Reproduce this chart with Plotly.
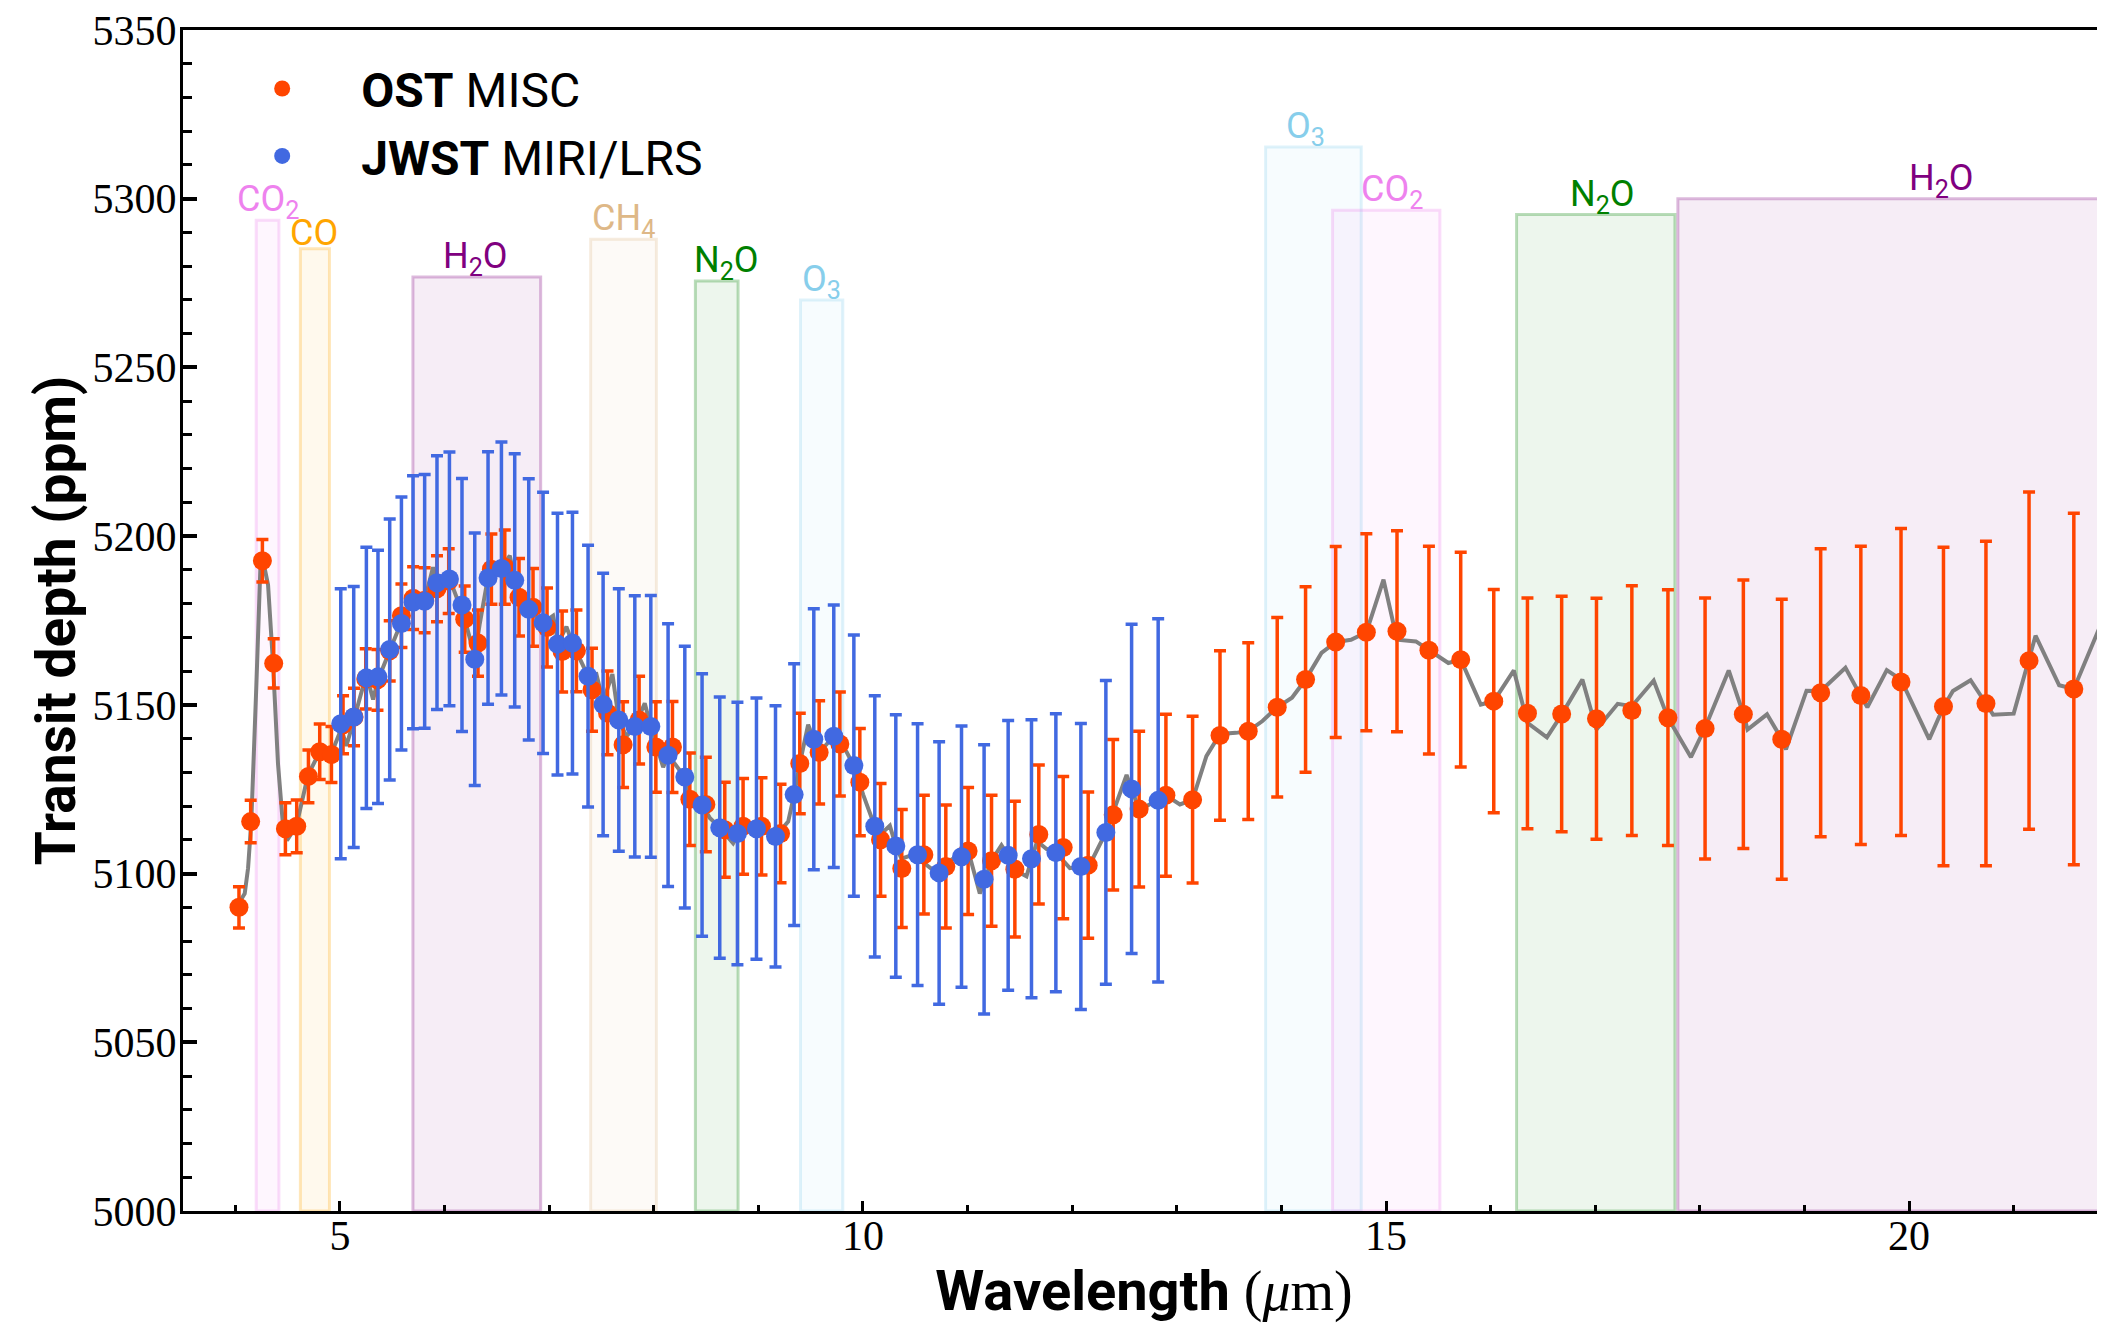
import plotly.graph_objects as go

# ---------------- data ----------------
ost_x = [4.035, 4.147, 4.259, 4.367, 4.479, 4.587, 4.699, 4.807, 4.919, 5.03, 5.135, 5.247, 5.359,
         5.476, 5.588, 5.70, 5.81, 5.928, 6.04, 6.193, 6.32, 6.448, 6.576, 6.712, 6.846, 6.98, 7.124,
         7.261, 7.41, 7.558, 7.707, 7.86, 8.02, 8.179, 8.345, 8.498, 8.679, 8.854, 9.03, 9.212, 9.396,
         9.581, 9.779, 9.97, 10.168, 10.371, 10.582, 10.792, 11.005, 11.229, 11.452, 11.681, 11.914,
         12.153, 12.392, 12.64, 12.896, 13.151, 13.413, 13.683, 13.96, 14.231, 14.519, 14.812, 15.105,
         15.41, 15.714, 16.03, 16.352, 16.679, 17.012, 17.35, 17.695, 18.05, 18.416, 18.783, 19.155,
         19.539, 19.923, 20.329, 20.735, 21.147, 21.575]
ost_y = [5090.0, 5115.4, 5192.7, 5162.3, 5113.3, 5114.0, 5128.8, 5136.1, 5135.3, 5144.1, 5146.4, 5157.7,
         5157.4, 5166.0, 5176.4, 5181.6, 5181.0, 5184.4, 5186.7, 5175.4, 5168.3, 5190.2, 5190.8, 5181.9,
         5178.9, 5172.9, 5165.8, 5166.0, 5154.5, 5147.6, 5138.2, 5145.5, 5137.5, 5137.5, 5122.0, 5120.5,
         5113.0, 5114.0, 5114.0, 5111.9, 5132.6, 5135.9, 5138.4, 5127.1, 5110.0, 5101.5, 5105.6, 5102.1,
         5106.7, 5103.8, 5101.3, 5111.6, 5107.7, 5102.5, 5117.4, 5119.1, 5123.2, 5121.9, 5140.9, 5142.2,
         5149.3, 5157.5, 5168.6, 5171.5, 5171.8, 5166.2, 5163.4, 5151.1, 5147.5, 5147.3, 5145.9, 5148.3,
         5146.2, 5143.0, 5147.2, 5139.8, 5153.6, 5152.8, 5156.8, 5149.5, 5150.4, 5163.1, 5154.7]
ost_err = [6.1, 6.3, 6.3, 7.3, 7.7, 7.8, 7.8, 8.2, 8.3, 8.6, 8.5, 8.9, 9.0, 8.9, 9.4, 9.3, 9.6, 9.8, 9.6,
           9.8, 9.8, 10.4, 11.0, 11.5, 11.5, 11.7, 12.0, 12.1, 12.3, 12.4, 12.7, 13.0, 13.4, 13.5, 13.7,
           14.0, 14.1, 14.2, 14.4, 14.6, 14.9, 15.3, 15.4, 15.9, 16.7, 17.5, 17.6, 18.2, 18.8, 19.4, 20.1,
           20.6, 21.1, 21.7, 22.3, 23.1, 24.0, 24.7, 25.1, 26.2, 26.6, 27.5, 28.3, 29.2, 29.8, 30.8, 31.8,
           33.1, 34.2, 34.9, 35.7, 37.0, 37.9, 38.7, 39.8, 41.5, 42.7, 44.2, 45.5, 47.2, 48.1, 50.0, 52.1]

jwst_x = [5.008, 5.132, 5.253, 5.364, 5.476, 5.588, 5.699, 5.81, 5.928, 6.047, 6.167, 6.289, 6.416,
          6.544, 6.671, 6.805, 6.942, 7.08, 7.223, 7.372, 7.516, 7.666, 7.819, 7.972, 8.137, 8.297,
          8.462, 8.631, 8.80, 8.982, 9.164, 9.342, 9.53, 9.721, 9.913, 10.113, 10.314, 10.522, 10.728,
          10.942, 11.158, 11.388, 11.611, 11.844, 12.083, 12.322, 12.568, 12.822]
jwst_y = [5144.4, 5146.4, 5158.0, 5158.3, 5166.4, 5174.1, 5180.4, 5180.7, 5186.2, 5187.3, 5179.6, 5163.5,
          5187.6, 5190.4, 5186.9, 5178.3, 5174.3, 5168.0, 5168.3, 5158.5, 5150.1, 5145.5, 5143.6, 5143.6,
          5135.1, 5128.6, 5120.3, 5113.6, 5111.9, 5113.3, 5111.0, 5123.4, 5139.8, 5140.7, 5132.0, 5114.0,
          5108.2, 5105.6, 5100.2, 5105.0, 5098.3, 5105.4, 5104.4, 5106.2, 5102.1, 5112.2, 5125.1, 5121.7]
jwst_err = [40.0, 38.7, 38.7, 37.5, 38.7, 37.5, 37.5, 37.6, 37.6, 37.6, 37.5, 37.4, 37.4, 37.5, 37.5,
            38.7, 38.7, 38.8, 38.8, 38.8, 38.9, 38.9, 38.7, 38.8, 38.9, 38.8, 38.9, 38.7, 38.9, 38.7,
            38.7, 38.8, 38.7, 38.9, 38.7, 38.7, 38.9, 38.8, 38.9, 38.7, 39.9, 40.0, 41.2, 41.2, 42.4,
            45.0, 48.8, 53.8]

model_x = [4.05, 4.09, 4.122, 4.153, 4.201, 4.239, 4.271, 4.313, 4.36, 4.408, 4.456, 4.494, 4.584, 4.695,
           4.807, 4.918, 5.014, 5.062, 5.141, 5.253, 5.317, 5.364, 5.476, 5.588, 5.699, 5.811, 5.890,
           5.938, 6.05, 6.145, 6.193, 6.289, 6.337, 6.416, 6.544, 6.624, 6.671, 6.805, 6.942, 7.038,
           7.086, 7.165, 7.223, 7.372, 7.452, 7.516, 7.605, 7.666, 7.739, 7.819, 7.914, 7.972, 8.09,
           8.137, 8.297, 8.344, 8.462, 8.536, 8.631, 8.759, 8.854, 8.982, 9.164, 9.285, 9.342, 9.396,
           9.476, 9.530, 9.588, 9.721, 9.843, 9.913, 10.002, 10.113, 10.177, 10.257, 10.314, 10.368,
           10.48, 10.671, 10.862, 10.942, 11.022, 11.117, 11.229, 11.324, 11.388, 11.452, 11.563,
           11.665, 11.755, 11.844, 11.978, 12.083, 12.169, 12.322, 12.52, 12.567, 12.641, 12.822,
           12.896, 13.03, 13.151, 13.283, 13.413, 13.565, 13.684, 13.819, 13.960, 14.101, 14.231,
           14.383, 14.519, 14.665, 14.812, 14.976, 15.105, 15.286, 15.410, 15.596, 15.715, 15.906,
           16.030, 16.222, 16.352, 16.538, 16.679, 16.877, 17.012, 17.215, 17.350, 17.559, 17.694,
           17.915, 18.050, 18.276, 18.417, 18.456, 18.642, 18.783, 18.823, 19.020, 19.156, 19.392,
           19.539, 19.601, 19.787, 19.923, 20.193, 20.329, 20.419, 20.588, 20.735, 20.803, 21.0,
           21.147, 21.209, 21.435, 21.575, 21.857]
model_y = [5092.0, 5094.1, 5101.6, 5115.4, 5155.6, 5190.2, 5191.9, 5185.6, 5162.6, 5132.6, 5114.2,
           5109.8, 5114.2, 5129.2, 5136.1, 5135.5, 5143.0, 5137.8, 5146.4, 5159.1, 5151.6, 5157.4,
           5166.0, 5174.6, 5181.0, 5181.0, 5190.8, 5185.6, 5187.3, 5179.8, 5175.4, 5164.3, 5174.1,
           5187.9, 5190.4, 5194.2, 5187.0, 5178.3, 5174.3, 5176.4, 5168.3, 5173.2, 5168.3, 5158.5,
           5159.1, 5151.0, 5159.1, 5145.5, 5140.7, 5143.6, 5150.5, 5143.6, 5131.5, 5135.2, 5128.6,
           5122.8, 5120.3, 5116.5, 5113.6, 5109.0, 5114.2, 5113.3, 5111.0, 5115.4, 5123.4, 5132.6,
           5144.1, 5139.8, 5136.1, 5140.7, 5136.1, 5131.9, 5123.4, 5114.0, 5111.9, 5114.2, 5108.2,
           5104.4, 5105.6, 5101.0, 5104.4, 5105.0, 5105.0, 5094.1, 5103.8, 5108.4, 5105.3, 5101.0,
           5099.2, 5109.6, 5107.3, 5106.2, 5101.6, 5102.1, 5102.7, 5112.2, 5129.2, 5125.1, 5119.0,
           5121.7, 5123.2, 5120.5, 5121.9, 5134.8, 5141.4, 5141.7, 5142.2, 5145.2, 5149.3, 5152.1,
           5157.5, 5165.4, 5168.6, 5169.3, 5171.5, 5187.1, 5169.3, 5168.8, 5166.2, 5162.4, 5163.4,
           5150.1, 5151.1, 5160.2, 5144.7, 5140.4, 5147.1, 5157.5, 5142.7, 5150.3, 5149.6, 5157.2,
           5146.2, 5134.5, 5143.2, 5160.2, 5147.2, 5142.7, 5147.2, 5139.8, 5136.8, 5154.2, 5154.1,
           5161.0, 5152.6, 5149.3, 5160.3, 5157.5, 5139.8, 5149.4, 5154.1, 5157.3, 5150.4, 5147.1,
           5147.4, 5163.1, 5170.5, 5155.8, 5154.7, 5175.6]

band_names = ["CO<sub>2</sub>", "CO", "H<sub>2</sub>O", "CH<sub>4</sub>", "N<sub>2</sub>O", "O<sub>3</sub>",
              "O<sub>3</sub>", "CO<sub>2</sub>", "N<sub>2</sub>O", "H<sub>2</sub>O"]
band_lo = [4.20, 4.622, 5.698, 7.397, 8.398, 9.403, 13.849, 14.489, 16.248, 17.79]
band_hi = [4.417, 4.900, 6.919, 8.025, 8.806, 9.807, 14.763, 15.515, 17.762, 23.0]
band_top = [5293.6, 5285.2, 5276.8, 5288.0, 5275.6, 5270.0, 5315.3, 5296.6, 5295.3, 5300.0]
band_label_x = [4.31, 4.75, 6.30, 7.71, 8.70, 9.60, 14.23, 15.06, 17.07, 20.31]
band_rgb = ["238,130,238", "255,165,0", "128,0,128", "222,184,135", "0,128,0", "135,206,235",
            "135,206,235", "238,130,238", "0,128,0", "128,0,128"]

x_range = [3.5, 21.873]
y_range = [5000, 5350]

# ---------------- figure ----------------
fig = go.Figure()

fig.add_trace(go.Scatter(x=model_x, y=model_y, mode="lines",
                         line=dict(color="rgb(128,128,128)", width=4),
                         showlegend=False, hoverinfo="skip"))

fig.add_trace(go.Scatter(
    x=ost_x, y=ost_y, mode="markers", name="<b>OST</b> MISC",
    marker=dict(color="#FF4500", size=19),
    error_y=dict(type="data", array=ost_err, color="#FF4500", thickness=3.5, width=6),
    legendgroup="a"))

fig.add_trace(go.Scatter(
    x=jwst_x, y=jwst_y, mode="markers", name="<b>JWST</b> MIRI/LRS",
    marker=dict(color="#4169E1", size=19),
    error_y=dict(type="data", array=jwst_err, color="#4169E1", thickness=3.5, width=6),
    legendgroup="b"))

for lo, hi, top, rgb, name, lx in zip(band_lo, band_hi, band_top, band_rgb, band_names, band_label_x):
    fig.add_shape(type="rect", xref="x", yref="y", x0=lo, x1=hi, y0=y_range[0], y1=top,
                  fillcolor=f"rgba({rgb},0.07)", line=dict(color=f"rgba({rgb},0.27)", width=3),
                  layer="below")
    fig.add_annotation(x=lx, y=top, xref="x", yref="y", text=name, showarrow=False,
                       yanchor="bottom", xanchor="center", yshift=-7,
                       font=dict(family="Roboto, sans-serif", size=36, color=f"rgb({rgb})"))

tick_font = dict(family="Liberation Serif, serif", size=42, color="black")

fig.update_layout(
    width=2097, height=1318,
    margin=dict(l=175, r=0, t=20, b=115),
    plot_bgcolor="white", paper_bgcolor="white",
    showlegend=True,
    legend=dict(x=0.0105, y=0.9824, xanchor="left", yanchor="top",
                font=dict(family="Roboto, sans-serif", size=48, color="black"),
                bgcolor="rgba(0,0,0,0)", tracegroupgap=2, itemwidth=148),
    xaxis=dict(range=x_range, showgrid=False, zeroline=False,
               showline=True, linecolor="black", linewidth=3, mirror=True,
               ticks="inside", ticklen=10, tickwidth=3, tickcolor="black",
               tick0=0, dtick=5, tickfont=tick_font, ticklabelstandoff=-14,
               ticklabeloverflow="allow",
               minor=dict(ticks="inside", ticklen=6, tickwidth=2.5, dtick=1, tickcolor="black"),
               title=dict(text="<b>Wavelength</b> <span style='font-family:Liberation Serif'>(<i>μ</i>m)</span>",
                          font=dict(family="Roboto, sans-serif", size=56, color="black"), standoff=13)),
    yaxis=dict(range=y_range, showgrid=False, zeroline=False,
               showline=True, linecolor="black", linewidth=3, mirror=False,
               ticks="inside", ticklen=14, tickwidth=3.5, tickcolor="black",
               tick0=5000, dtick=50, tickfont=tick_font, ticklabelstandoff=-5,
               ticklabeloverflow="allow",
               minor=dict(ticks="inside", ticklen=9, tickwidth=3, dtick=10, tickcolor="black"),
               title=dict(text="<b>Transit depth (ppm)</b>",
                          font=dict(family="Roboto, sans-serif", size=55, color="black"), standoff=0)),
)

fig.write_html("out.html")
